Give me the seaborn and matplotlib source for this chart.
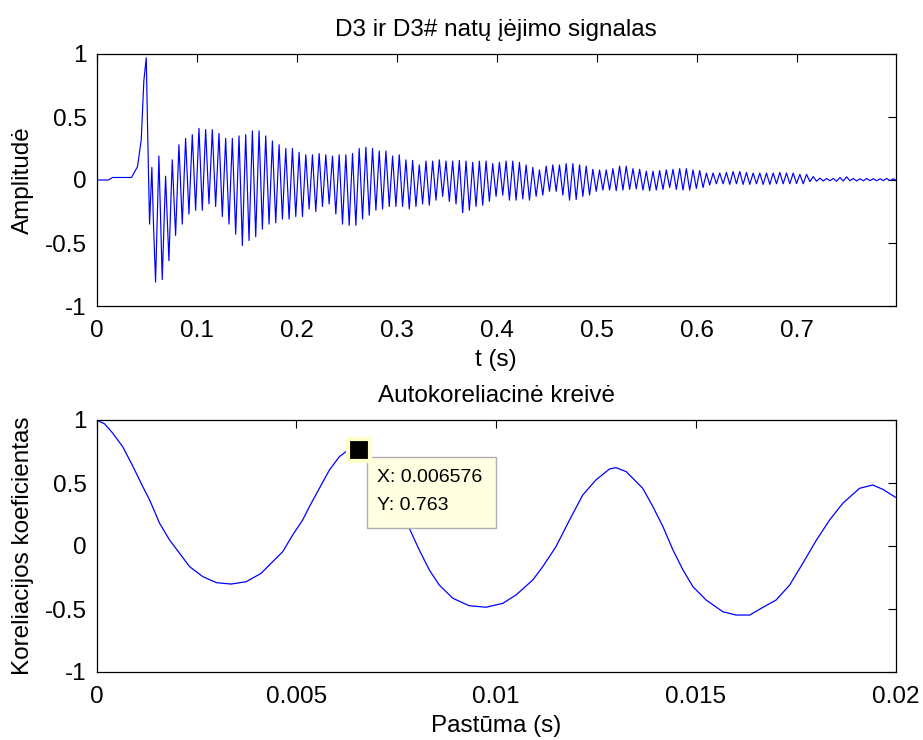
import numpy as np
import pandas as pd
import matplotlib
matplotlib.use("Agg")
import matplotlib.pyplot as plt
from matplotlib.patches import Rectangle
import seaborn as sns

# ---------------- data ----------------
# onset of the note: time (s) and amplitude
onset_t = [0.0, 0.012, 0.016, 0.035, 0.041, 0.0447, 0.0473, 0.0497, 0.0513, 0.053, 0.0553, 0.057]
onset_v = [0.0, 0.0, 0.02, 0.02, 0.107, 0.32, 0.787, 0.97, 0.30, -0.35, 0.10, -0.37]

# oscillation cycles after the onset (about 150 Hz): first trough time and cycle period (s)
cycle_start = 0.059
cycle_period = 0.00667
cycle_peaks = [0.19, 0.03, 0.16, 0.28, 0.33, 0.36, 0.41, 0.40, 0.40, 0.37,
               0.33, 0.33, 0.35, 0.36, 0.39, 0.39, 0.35, 0.31, 0.28, 0.25,
               0.25, 0.22, 0.20, 0.20, 0.21, 0.20, 0.19, 0.20, 0.20, 0.21,
               0.25, 0.26, 0.25, 0.23, 0.23, 0.19, 0.20, 0.16, 0.155, 0.12,
               0.15, 0.15, 0.16, 0.15, 0.15, 0.155, 0.15, 0.14, 0.15, 0.15,
               0.13, 0.14, 0.15, 0.15, 0.14, 0.12, 0.10, 0.08, 0.11, 0.12,
               0.12, 0.13, 0.13, 0.12, 0.11, 0.085, 0.08, 0.08, 0.09, 0.11,
               0.11, 0.09, 0.085, 0.07, 0.07, 0.075, 0.08, 0.085, 0.09, 0.09,
               0.08, 0.075, 0.055, 0.055, 0.055, 0.06, 0.067, 0.067, 0.06, 0.055,
               0.055, 0.055, 0.055, 0.06, 0.055, 0.055, 0.045, 0.045, 0.027, 0.015,
               0.012, 0.012, 0.02, 0.025, 0.012, 0.01, 0.012, 0.01, 0.01, 0.012, 0.01]
cycle_troughs = [-0.81, -0.79, -0.64, -0.44, -0.35, -0.27, -0.24, -0.24, -0.19, -0.21,
                 -0.29, -0.35, -0.43, -0.52, -0.48, -0.45, -0.39, -0.35, -0.34, -0.31,
                 -0.31, -0.29, -0.29, -0.23, -0.25, -0.21, -0.19, -0.27, -0.35, -0.36,
                 -0.36, -0.31, -0.28, -0.24, -0.23, -0.21, -0.21, -0.21, -0.23, -0.21,
                 -0.19, -0.20, -0.16, -0.13, -0.17, -0.19, -0.26, -0.24, -0.21, -0.20,
                 -0.17, -0.13, -0.12, -0.16, -0.16, -0.15, -0.16, -0.13, -0.12, -0.09,
                 -0.09, -0.12, -0.16, -0.155, -0.13, -0.12, -0.09, -0.08, -0.08, -0.085,
                 -0.08, -0.075, -0.07, -0.08, -0.085, -0.08, -0.075, -0.06, -0.075, -0.08,
                 -0.08, -0.067, -0.06, -0.04, -0.03, -0.03, -0.035, -0.03, -0.035, -0.035,
                 -0.03, -0.035, -0.035, -0.03, -0.03, -0.03, -0.028, -0.03, -0.013, -0.01,
                 -0.008, -0.006, -0.01, -0.008, -0.006, -0.008, -0.006, -0.005, -0.006, -0.005, -0.005]
signal_end_t = [0.7982]
signal_end_v = [0.0]

# autocorrelation curve: lag (s) and coefficient
lag_s = [0.0, 0.0002, 0.0004, 0.00066, 0.00091, 0.00116, 0.00133, 0.00158, 0.00183, 0.00208,
         0.00233, 0.00266, 0.0030, 0.00337, 0.00375, 0.00412, 0.00441, 0.00466, 0.00491, 0.00516,
         0.00533, 0.00558, 0.00583, 0.00608, 0.00629, 0.0065, 0.0068, 0.0071, 0.0074, 0.0076,
         0.00783, 0.00808, 0.00833, 0.00858, 0.00892, 0.00933, 0.00975, 0.01017, 0.0105, 0.01092,
         0.01117, 0.0115, 0.01184, 0.01217, 0.0125, 0.01284, 0.0130, 0.01326, 0.01351, 0.01367,
         0.01392, 0.01418, 0.01443, 0.01468, 0.01493, 0.01526, 0.01568, 0.01601, 0.01635, 0.01668,
         0.01701, 0.01735, 0.01768, 0.01802, 0.01835, 0.01868, 0.0191, 0.01943, 0.01968, 0.0200]
corr = [1.0, 0.97, 0.898, 0.786, 0.633, 0.47, 0.365, 0.18, 0.047, -0.058,
        -0.164, -0.243, -0.291, -0.302, -0.283, -0.217, -0.124, -0.046, 0.087, 0.206,
        0.313, 0.458, 0.603, 0.709, 0.760, 0.765, 0.714, 0.572, 0.408, 0.276,
        0.14, -0.032, -0.19, -0.31, -0.415, -0.474, -0.486, -0.455, -0.389, -0.27,
        -0.164, -0.006, 0.206, 0.404, 0.524, 0.611, 0.622, 0.59, 0.51, 0.459,
        0.317, 0.153, -0.032, -0.19, -0.323, -0.429, -0.522, -0.548, -0.548, -0.487,
        -0.429, -0.31, -0.137, 0.047, 0.206, 0.339, 0.458, 0.484, 0.45, 0.387]

# data tip
tip_x = 0.006576
tip_y = 0.763

top_xticks = [0, 0.1, 0.2, 0.3, 0.4, 0.5, 0.6, 0.7]
top_xticklabels = ["0", "0.1", "0.2", "0.3", "0.4", "0.5", "0.6", "0.7"]
yticks = [-1, -0.5, 0, 0.5, 1]
yticklabels = ["-1", "-0.5", "0", "0.5", "1"]
bot_xticks = [0, 0.005, 0.01, 0.015, 0.02]
bot_xticklabels = ["0", "0.005", "0.01", "0.015", "0.02"]

# ---------------- assemble series ----------------
k = np.arange(len(cycle_peaks))
trough_t = cycle_start + k * cycle_period
peak_t = trough_t + cycle_period / 2
sig_t = np.concatenate([onset_t, np.column_stack([trough_t, peak_t]).ravel(), signal_end_t])
sig_v = np.concatenate([onset_v, np.column_stack([cycle_troughs, cycle_peaks]).ravel(), signal_end_v])
df_sig = pd.DataFrame({"t": sig_t, "v": sig_v})
df_corr = pd.DataFrame({"lag": lag_s, "r": corr})

# ---------------- style ----------------
sns.set_theme(style="white")
plt.rcParams["font.family"] = ["Liberation Sans", "DejaVu Sans"]
plt.rcParams["text.color"] = "black"
plt.rcParams["axes.labelcolor"] = "black"
plt.rcParams["axes.titlecolor"] = "black"
plt.rcParams["axes.edgecolor"] = "black"
plt.rcParams["axes.linewidth"] = 0.9
FS = 17.5
BLUE = "#0000FF"

fig = plt.figure(figsize=(9.23, 7.4), dpi=100)
fig.patch.set_facecolor("white")
W, H = 923.0, 740.0
ax1 = fig.add_axes([96.5 / W, 1 - 306 / H, 799 / W, 252 / H])
ax2 = fig.add_axes([96.5 / W, 1 - 672 / H, 799 / W, 252 / H])

sns.lineplot(data=df_sig, x="t", y="v", ax=ax1, color=BLUE, linewidth=0.85,
             estimator=None, sort=False)
sns.lineplot(data=df_corr, x="lag", y="r", ax=ax2, color=BLUE, linewidth=0.9,
             estimator=None, sort=False)

for ax in (ax1, ax2):
    ax.set_ylim(-1, 1)
    ax.set_yticks(yticks)
    ax.set_yticklabels(yticklabels)
    ax.tick_params(direction="in", top=True, right=True, length=5.5, width=0.8,
                   labelsize=FS, colors="black")
    ax.tick_params(axis="x", pad=10)
    ax.tick_params(axis="y", pad=7)
    for s in ax.spines.values():
        s.set_color("black")
        s.set_linewidth(0.9)
    ax.set_facecolor("white")

ax1.set_xlim(0, 0.7982)
ax1.set_xticks(top_xticks)
ax1.set_xticklabels(top_xticklabels)
ax1.set_title("D3 ir D3# natų įėjimo signalas", fontsize=FS, pad=13, color="black")
ax1.set_xlabel("t (s)", fontsize=FS, labelpad=5)
ax1.set_ylabel("Amplitudė", fontsize=FS, labelpad=8)

ax2.set_xlim(0, 0.02)
ax2.set_xticks(bot_xticks)
ax2.set_xticklabels(bot_xticklabels)
ax2.set_title("Autokoreliacinė kreivė", fontsize=FS, pad=13, color="black")
ax2.set_xlabel("Pastūma (s)", fontsize=FS, labelpad=5)
ax2.set_ylabel("Koreliacijos koeficientas", fontsize=FS, labelpad=8)

# data tip marker and box
ax2.plot([tip_x], [tip_y], marker="s", ms=16, mfc="black", mec="#FFFFCC", mew=3,
         linestyle="none", zorder=6)
ax2.add_patch(Rectangle((0.00678, 0.143), 0.00323, 0.563, facecolor="#FFFFE1",
                        edgecolor="#B0B0B0", linewidth=1, zorder=5))
ax2.text(0.00703, 0.54, f"X: {tip_x}", fontsize=14, va="center", ha="left", zorder=7)
ax2.text(0.00703, 0.325, f"Y: {tip_y}", fontsize=14, va="center", ha="left", zorder=7)

fig.savefig("out.png", dpi=100, facecolor="white")
